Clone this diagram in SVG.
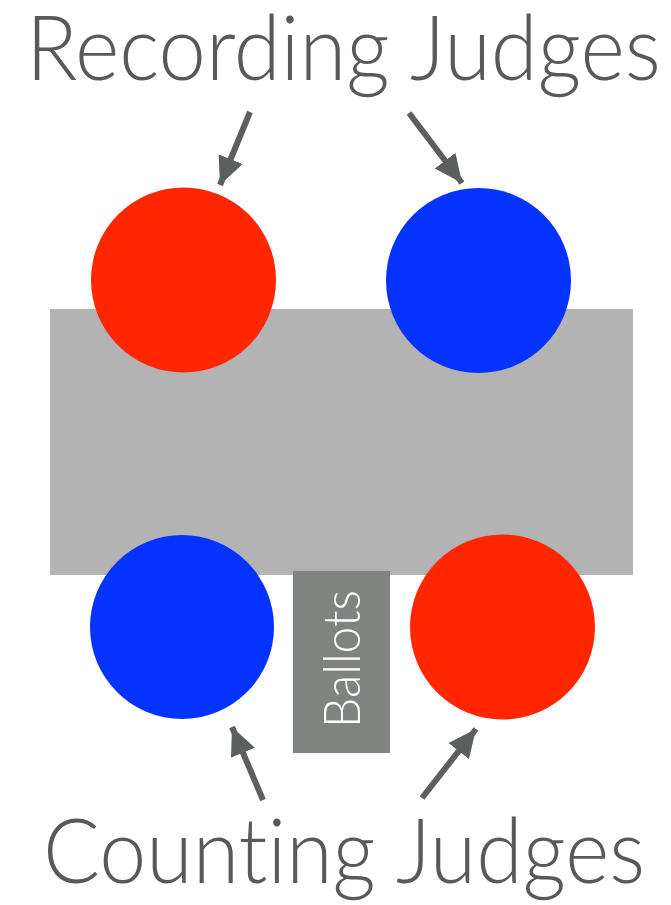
<svg xmlns="http://www.w3.org/2000/svg" width="671" height="905" viewBox="0 0 671 905">
<style>
.title{font-family:Lato,"Open Sans","Liberation Sans",sans-serif;font-weight:300;font-size:91px;fill:#595959;font-variant-ligatures:none;font-feature-settings:"liga" 0,"clig" 0,"dlig" 0}
.conn{stroke:#5b5f5d;stroke-width:6;fill:none}
.red{fill:#ff2600}
.blue{fill:#0433ff}
</style>
<defs>
<marker id="ah" markerUnits="userSpaceOnUse" markerWidth="30" markerHeight="28" refX="28" refY="13" orient="auto" viewBox="0 0 30 26">
<polygon points="0,0 28,13 0,26" fill="#5b5f5d"/>
</marker>
</defs>
<g id="table"><rect x="50" y="309" width="583" height="266" fill="#b3b3b3"/></g>
<g id="rec-red"><circle class="red" cx="183.5" cy="280" r="92.5"/></g>
<g id="rec-blue"><circle class="blue" cx="478.5" cy="280.5" r="92.5"/></g>
<g id="cnt-blue"><circle class="blue" cx="182" cy="627" r="92"/></g>
<g id="cnt-red"><circle class="red" cx="502.5" cy="627" r="92.5"/></g>
<g id="ballots">
<rect x="293" y="571" width="97" height="182" fill="#7f8480"/>
<text transform="translate(360,728) rotate(-90)" font-family="Lato,'Open Sans','Liberation Sans',sans-serif" font-weight="300" font-size="52" fill="#ffffff" textLength="138" lengthAdjust="spacingAndGlyphs">Ballots</text>
</g>
<g id="label-recording"><text class="title" x="26" y="80" textLength="635" lengthAdjust="spacingAndGlyphs">Recording Judges</text></g>
<g id="label-counting"><text class="title" x="43" y="883" textLength="602" lengthAdjust="spacingAndGlyphs">Counting Judges</text></g>
<g id="connectors">
<line class="conn" x1="250" y1="112" x2="220" y2="185" marker-end="url(#ah)"/>
<line class="conn" x1="409" y1="113" x2="462" y2="183" marker-end="url(#ah)"/>
<line class="conn" x1="263" y1="800" x2="232" y2="727" marker-end="url(#ah)"/>
<line class="conn" x1="422" y1="798" x2="476" y2="729" marker-end="url(#ah)"/>
</g>
</svg>
